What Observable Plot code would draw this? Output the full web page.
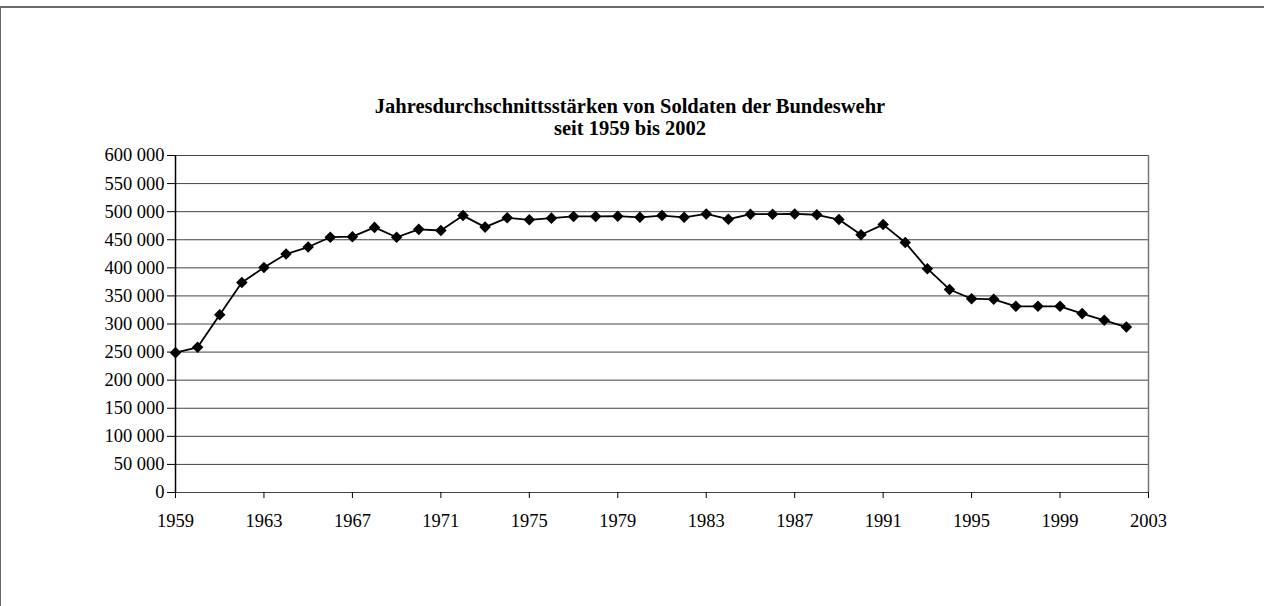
<!DOCTYPE html>
<html>
<head>
<meta charset="utf-8">
<script src="https://cdn.jsdelivr.net/npm/d3@7"></script>
<script src="https://cdn.jsdelivr.net/npm/@observablehq/plot@0.6"></script>
<style>
  html, body { margin: 0; padding: 0; background: #fff; }
  #wrap { position: relative; width: 1264px; height: 606px; overflow: hidden; background: #fff; }
  #frame { position: absolute; left: 0; top: 6px; width: 1400px; height: 800px;
           border-top: 2px solid #6a6a6a; border-left: 1px solid #6a6a6a; box-sizing: border-box; }
  #title { position: absolute; left: 0; top: 95px; width: 1260px; text-align: center;
           font-family: "Liberation Serif", "Times New Roman", serif; font-weight: bold;
           font-size: 20.5px; line-height: 22px; color: #000; }
  #chart { position: absolute; left: 0; top: 0; }
</style>
</head>
<body>
<div id="wrap">
  <div id="frame"></div>
  <div id="chart"></div>
  <div id="title">Jahresdurchschnittsstärken von Soldaten der Bundeswehr<br>seit 1959 bis 2002</div>
</div>
<script>
const years = [1959,1960,1961,1962,1963,1964,1965,1966,1967,1968,1969,1970,1971,1972,1973,1974,1975,1976,1977,1978,1979,1980,1981,1982,1983,1984,1985,1986,1987,1988,1989,1990,1991,1992,1993,1994,1995,1996,1997,1998,1999,2000,2001,2002];
const soldiers = [249000,258500,316500,374000,400500,424500,437000,454500,455500,472000,454500,468500,466500,493000,472500,489000,485500,488500,491500,491500,492000,490000,493000,490000,496000,486500,495500,495500,496000,494500,486000,459000,477000,445000,398500,361500,345000,344000,331500,331500,331500,318500,306500,294500];
const yTicks = [0,50000,100000,150000,200000,250000,300000,350000,400000,450000,500000,550000,600000];
const xTicks = [1959,1963,1967,1971,1975,1979,1983,1987,1991,1995,1999,2003];

const data = years.map((y, i) => ({year: y, value: soldiers[i]}));
const fmtY = d => d3.format(",")(d).replace(/,/g, " ");

const chart = Plot.plot({
  width: 1264,
  height: 606,
  marginTop: 155,
  marginBottom: 114,
  marginLeft: 175,
  marginRight: 116,
  style: {fontFamily: "'Liberation Serif', 'Times New Roman', serif", fontSize: "18.5px", color: "#000", background: "transparent"},
  x: {type: "linear", domain: [1959, 2003]},
  y: {domain: [0, 600000]},
  marks: [
    Plot.ruleY(yTicks, {stroke: "#444", strokeWidth: 1}),
    Plot.ruleX([2003], {stroke: "#777", strokeWidth: 1.5}),
    Plot.ruleX([1959], {stroke: "#000", strokeWidth: 1.5}),
    Plot.axisY({ticks: yTicks, tickFormat: fmtY, tickSize: 8, tickPadding: 3, label: null, stroke: "#000"}),
    Plot.axisX({ticks: xTicks, tickFormat: d => String(d), tickSize: 6, tickPadding: 15, label: null, stroke: "#000"}),
    Plot.line(data, {x: "year", y: "value", stroke: "#000", strokeWidth: 1.8}),
    Plot.dot(data, {x: "year", y: "value", symbol: "diamond2", r: 5.2, fill: "#000", stroke: "none"})
  ]
});
document.getElementById("chart").appendChild(chart);
</script>
</body>
</html>
